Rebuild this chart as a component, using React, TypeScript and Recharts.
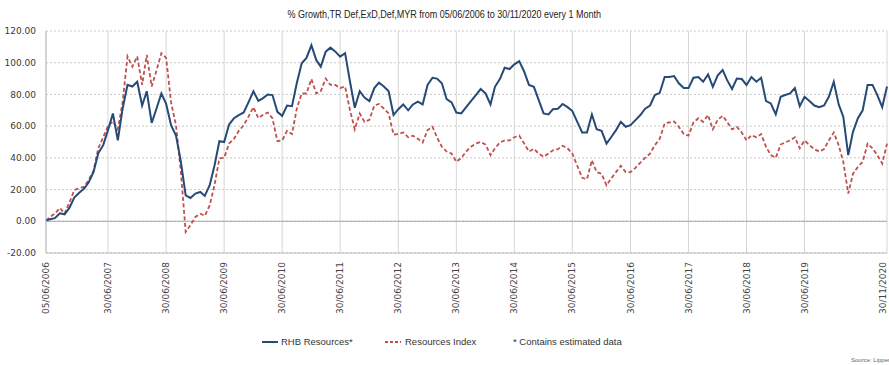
import {
  LineChart,
  Line,
  XAxis,
  YAxis,
  CartesianGrid,
  ReferenceLine,
} from "recharts";

// first point is the start date, then one point per month end
const startDate = "05/06/2006";
const monthsAfterStart = 174; // 30/06/2006 .. 30/11/2020

const rhbResources = [
  0.5,
  1.3, 2, 5, 4.4, 8.6, 15, 18, 20.6, 24.4, 31, 43, 48,
  57.5, 68, 51, 71, 86, 85, 88, 73, 82, 62, 71, 80.6,
  74, 60.6, 54, 38, 16.4, 14.7, 17.5, 18.5, 16, 22.7, 35, 50.5,
  50, 61, 65, 67, 68.6, 75, 82, 76, 77.5, 80, 79.6, 69,
  66.5, 73, 72.6, 87, 99.6, 103, 111, 101.6, 97.5, 107, 109.5, 107,
  103.8, 106, 88, 71.6, 82, 78, 75.8, 84, 87.4, 85, 82, 67,
  70.7, 73.7, 70, 73.7, 75.4, 73.7, 86, 90.5, 90, 87, 77, 75,
  68.6, 68, 72, 75.8, 79.6, 83.4, 80.6, 73.7, 84.8, 89.7, 96.8, 96,
  99, 101, 94.3, 86, 84.8, 76.6, 68, 67.4, 70.7, 71, 74, 72,
  69.5, 62.7, 56, 56, 67.4, 58, 57, 49, 53, 57.5, 62.7, 59.6,
  60.6, 63.8, 67, 71, 73, 79.6, 81, 91, 91, 91.6, 87, 84,
  84, 90.5, 91, 88, 92.6, 84.8, 92, 95.4, 89, 83.4, 90, 89.7,
  86, 91, 88, 90.5, 75.8, 74.3, 67.4, 78.5, 79.6, 80.6, 84, 72.6,
  78.5, 75.8, 73, 72, 73, 78.5, 88, 73.7, 66, 41.7, 56.4, 65,
  70, 86, 86, 79.6, 72, 85,
];

const resourcesIndex = [
  0.5,
  2.7, 4.8, 8.4, 4.8, 12, 19.6, 21, 21.7, 26, 32, 46, 53,
  60, 63, 58, 75, 104, 97.5, 104, 86, 105, 85, 95, 106,
  103, 75, 60.6, 32, -6.7, -2.5, 2.7, 4.8, 3.4, 10, 22.7, 39.6,
  40, 49, 52, 57, 60.6, 66, 72, 65, 67, 68.6, 65, 50.5,
  51, 57, 55, 71, 80.6, 80.6, 89.7, 80.6, 82, 90, 86, 86,
  84, 85, 70, 58, 68, 62.7, 64, 73, 74, 71, 68, 54.7,
  55, 56, 53, 54, 52, 49.7, 57.5, 59.6, 53, 47, 44, 42.7,
  37.5, 40, 44, 47, 49, 50, 48.4, 41.7, 46, 49.7, 51, 51,
  53, 54, 49, 44, 45.7, 42.7, 40.6, 42.7, 44.8, 45.5, 47.6, 46,
  42.7, 35, 27.4, 26.5, 38.5, 31, 30, 22.7, 27, 31, 35, 31,
  31, 33.7, 37, 40, 42.7, 48, 52, 61.7, 62.3, 63, 59.6, 55,
  54, 62.3, 65, 62.7, 67, 58, 64, 66.5, 62.7, 58, 59.6, 56,
  51, 54.3, 53, 55, 47, 41.7, 40, 48.4, 49.7, 51, 53, 46,
  51, 48, 45.5, 44, 45.5, 51, 56, 48, 37.5, 17.5, 30, 34.3,
  37.5, 49, 46, 41.7, 36.4, 49,
];

const xTickLabels = [
  "05/06/2006",
  "30/06/2007",
  "30/06/2008",
  "30/06/2009",
  "30/06/2010",
  "30/06/2011",
  "30/06/2012",
  "30/06/2013",
  "30/06/2014",
  "30/06/2015",
  "30/06/2016",
  "30/06/2017",
  "30/06/2018",
  "30/06/2019",
  "30/11/2020",
];

const yTicks = [-20, 0, 20, 40, 60, 80, 100, 120];
const yMinorTicks = [-20, -15, -10, -5, 0, 5, 10, 15, 20, 25, 30, 35, 40, 45, 50, 55, 60, 65, 70, 75, 80, 85, 90, 95, 100, 105, 110, 115, 120];

const title = "% Growth,TR Def,ExD,Def,MYR from 05/06/2006 to 30/11/2020 every 1 Month";

const parseDate = (s: string) => {
  const [d, m, y] = s.split("/").map(Number);
  return Date.UTC(y, m - 1, d);
};

const pad = (n: number) => (n < 10 ? "0" + n : "" + n);

const fmtDate = (t: number) => {
  const d = new Date(t);
  return `${pad(d.getUTCDate())}/${pad(d.getUTCMonth() + 1)}/${d.getUTCFullYear()}`;
};

const dates: number[] = [parseDate(startDate)];
for (let i = 0; i < monthsAfterStart; i++) {
  // last day of the month, starting June 2006
  dates.push(Date.UTC(2006, 5 + i + 1, 0));
}

const data = dates.map((t, i) => ({
  t,
  rhb: rhbResources[i],
  idx: resourcesIndex[i],
}));

const xTicks = xTickLabels.map(parseDate);
const lastTick = xTicks[xTicks.length - 1];

const BLUE = "#264a77";
const RED = "#c0504d";

const XTick = (props: any) => {
  const { y, payload } = props;
  // keep the last label inside the picture
  const x = payload.value === lastTick ? props.x - 4 : props.x;
  return (
    <text
      x={x}
      y={y}
      transform={`rotate(-90 ${x} ${y})`}
      textAnchor="end"
      dominantBaseline="central"
      fontSize={9}
      fill="#444"
      fontFamily="DejaVu Sans"
    >
      {fmtDate(payload.value)}
    </text>
  );
};

export default function App() {
  return (
    <div
      style={{
        position: "absolute",
        left: 0,
        top: 0,
        width: 889,
        height: 365,
        background: "#fff",
        overflow: "hidden",
        fontFamily: "'Liberation Sans', sans-serif",
      }}
    >
      <div
        style={{
          position: "absolute",
          top: 9,
          left: 0,
          width: 889,
          textAlign: "center",
          fontSize: 10,
          color: "#222",
          transform: "scaleX(0.9)",
          transformOrigin: "443px 0",
        }}
      >
        {title}
      </div>
      <LineChart
        width={889}
        height={365}
        data={data}
        margin={{ top: 31, right: 2, left: 0, bottom: 0 }}
      >
        <CartesianGrid
          horizontal={true}
          vertical={false}
          stroke="#c8c8c8"
          strokeDasharray="2 2"
        />
        <CartesianGrid horizontal={false} vertical={true} stroke="#d6d6d6" />
        <XAxis
          dataKey="t"
          type="number"
          scale="time"
          domain={[xTicks[0], lastTick]}
          ticks={xTicks}
          interval={0}
          height={112}
          tick={<XTick />}
          tickLine={false}
          axisLine={{ stroke: "#bdbdbd" }}
          tickMargin={3}
        />
        <XAxis
          xAxisId="top"
          dataKey="t"
          type="number"
          orientation="top"
          domain={[xTicks[0], lastTick]}
          height={0}
          tick={false}
          tickLine={false}
          axisLine={{ stroke: "#bdbdbd" }}
        />
        <YAxis
          domain={[-20, 120]}
          ticks={yTicks}
          interval={0}
          width={46}
          tickFormatter={(v) => Number(v).toFixed(2)}
          tick={{ fontSize: 9, fill: "#3a3a3a", fontFamily: "DejaVu Sans" }}
          tickLine={false}
          tickMargin={4}
          axisLine={{ stroke: "#bdbdbd" }}
        />
        <YAxis
          yAxisId="minor"
          domain={[-20, 120]}
          ticks={yMinorTicks}
          interval={0}
          width={0}
          tick={false}
          tickSize={3}
          tickLine={{ stroke: "#bdbdbd" }}
          axisLine={false}
        />
        <YAxis
          yAxisId="right"
          orientation="right"
          domain={[-20, 120]}
          width={0}
          tick={false}
          tickLine={false}
          axisLine={{ stroke: "#bdbdbd" }}
        />
        <ReferenceLine y={0} stroke="#a8a8a8" />
        <Line
          type="linear"
          dataKey="idx"
          stroke={RED}
          strokeWidth={1.8}
          strokeDasharray="4 2.5"
          dot={false}
          isAnimationActive={false}
        />
        <Line
          type="linear"
          dataKey="rhb"
          stroke={BLUE}
          strokeWidth={2}
          dot={false}
          isAnimationActive={false}
        />
      </LineChart>
      <div
        style={{
          position: "absolute",
          top: 336,
          left: 0,
          width: 889,
          height: 14,
          fontSize: 9.5,
          color: "#333",
        }}
      >
        <svg style={{ position: "absolute", left: 262, top: 3 }} width={16} height={6}>
          <line x1={0} y1={3} x2={16} y2={3} stroke={BLUE} strokeWidth={2} />
        </svg>
        <span style={{ position: "absolute", left: 281, top: 0 }}>RHB Resources*</span>
        <svg style={{ position: "absolute", left: 385, top: 3 }} width={16} height={6}>
          <line
            x1={0}
            y1={3}
            x2={16}
            y2={3}
            stroke={RED}
            strokeWidth={1.8}
            strokeDasharray="3 2"
          />
        </svg>
        <span style={{ position: "absolute", left: 405, top: 0 }}>Resources Index</span>
        <span style={{ position: "absolute", left: 513, top: 0 }}>* Contains estimated data</span>
      </div>
      <div
        style={{
          position: "absolute",
          top: 357,
          left: 851,
          fontSize: 6,
          color: "#666",
          whiteSpace: "nowrap",
        }}
      >
        Source: Lipper
      </div>
    </div>
  );
}
